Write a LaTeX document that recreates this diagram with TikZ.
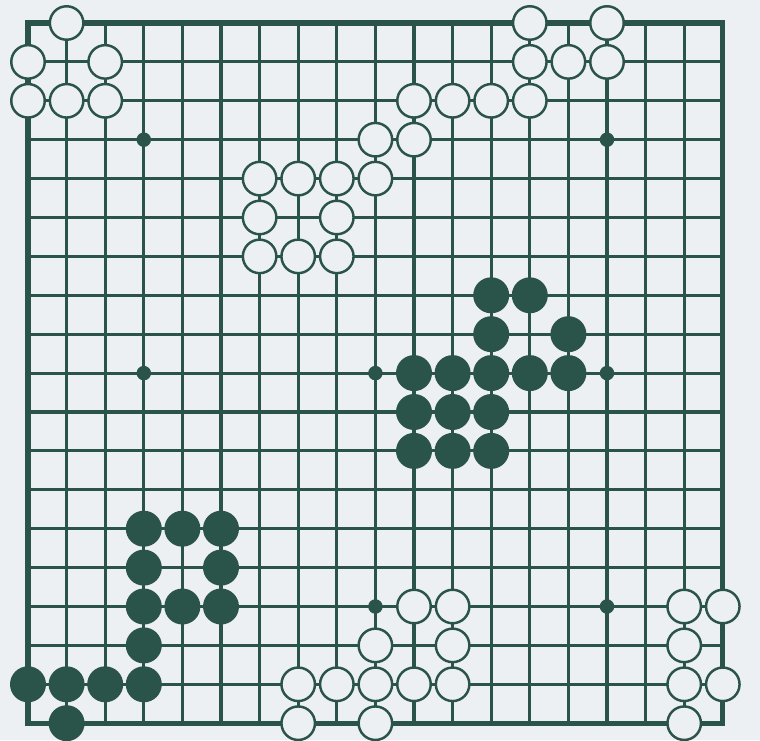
\documentclass[tikz,border=0pt]{standalone}
\definecolor{boardink}{RGB}{42,84,74}
\definecolor{paper}{RGB}{237,240,243}
\tikzset{
  gridline/.style={draw=boardink,line width=1.8pt},
  boardedge/.style={draw=boardink,line width=3pt},
  starpoint/.style={circle,fill=boardink,minimum size=.29cm,inner sep=0pt},
  whitestone/.style={circle,fill=paper,draw=boardink,line width=1.4pt,minimum size=.67cm,inner sep=0pt},
  blackstone/.style={circle,fill=boardink,minimum size=.72cm,inner sep=0pt},
}
\begin{document}
\begin{tikzpicture}[x=.02cm,y=-.02cm]
\fill[paper] (0,0) rectangle (760,740);
\useasboundingbox (0,0) rectangle (760,740);
% board lines
\foreach \i in {1,...,17} {
  \draw[gridline] ({28+38.6*\i},23) -- ({28+38.6*\i},723.2);
  \draw[gridline] (28,{23+38.9*\i}) -- (722.8,{23+38.9*\i});
}
\draw[boardedge] (28,23) rectangle (722.8,723.2);
% hoshi
\foreach \c/\r in {3/3,9/3,15/3,3/9,9/9,15/9,3/15,9/15,15/15}
  \node[starpoint] (s-\c-\r) at ({28+38.6*\c},{23+38.9*\r}) {};
% white stones
\foreach \c/\r in {1/0,13/0,15/0,0/1,2/1,13/1,14/1,15/1,0/2,1/2,2/2,10/2,11/2,12/2,13/2,
  9/3,10/3,6/4,7/4,8/4,9/4,6/5,8/5,6/6,7/6,8/6,
  10/15,11/15,17/15,18/15,9/16,11/16,17/16,7/17,8/17,9/17,10/17,11/17,17/17,18/17,7/18,9/18,17/18}
  \node[whitestone] (w-\c-\r) at ({28+38.6*\c},{23+38.9*\r}) {};
% black stones
\foreach \c/\r in {12/7,13/7,12/8,14/8,10/9,11/9,12/9,13/9,14/9,10/10,11/10,12/10,10/11,11/11,12/11,
  3/13,4/13,5/13,3/14,5/14,3/15,4/15,5/15,3/16,0/17,1/17,2/17,3/17,1/18}
  \node[blackstone] (b-\c-\r) at ({28+38.6*\c},{23+38.9*\r}) {};
\end{tikzpicture}
\end{document}
